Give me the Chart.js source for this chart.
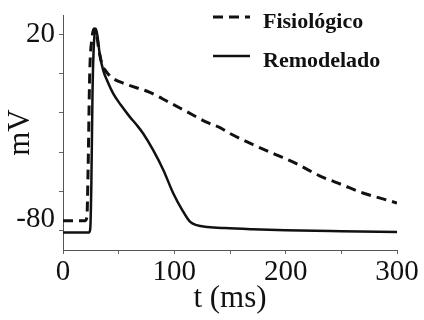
<!DOCTYPE html>
<html>
<head>
<meta charset="utf-8">
<script src="https://cdn.jsdelivr.net/npm/chart.js@4/dist/chart.umd.min.js"></script>
<style>
    body { margin: 0; background: #fff; }
    #wrap { width: 424px; height: 320px; }
</style>
</head>
<body>
<div id="wrap"><canvas id="chart" width="424" height="320"></canvas></div>
<script>
// potencial de ação - fisiológico (tracejado)
const fisioT = [0, 20, 21.5, 22.5, 24, 26, 28, 30, 32, 35, 39, 44, 55, 78, 95, 110, 130, 141, 150, 170, 190, 210, 230, 250, 270, 285, 300];
const fisioV = [-75, -75, -73, -50, 0, 18, 23, 21, 13, 5, 1, -2, -5, -9.5, -14.5, -19, -25, -27.5, -30.5, -36, -41, -46, -52, -56.5, -61, -63.5, -66];

// potencial de ação - remodelado (contínuo)
const remodT = [0, 23.5, 24.5, 25.5, 26.5, 27.5, 28.5, 29.5, 31, 33, 36, 40, 45, 52, 60, 66, 72, 81, 90, 99, 107, 114, 120, 130, 145, 170, 200, 250, 300];
const remodV = [-81, -81, -79, -55, -10, 12, 21, 23, 19, 10, 2, -4, -10, -16, -22, -26, -30.5, -39, -49, -61, -69.5, -75.5, -77.3, -78.2, -78.8, -79.4, -79.9, -80.4, -80.8];

const xTicks = [0, 50, 100, 150, 200, 250, 300];
const xLabels = [0, 100, 200, 300];
const yTicks = [-80, -60, -40, -20, 0, 20];
const yLabels = [20, -80];

const seriesNames = ['Fisiológico', 'Remodelado'];

Chart.defaults.font.family = "'Liberation Serif', 'DejaVu Serif', serif";
Chart.defaults.color = '#111';

function toPoints(ts, vs) {
    return ts.map(function (t, i) { return {x: t, y: vs[i]}; });
}

// legenda dentro da área do gráfico, canto superior direito
const innerLegend = {
    id: 'innerLegend',
    afterDraw: function (chart) {
        const ctx = chart.ctx;
        const rows = [17, 56];
        ctx.save();
        chart.data.datasets.forEach(function (ds, i) {
            const y = rows[i];
            ctx.beginPath();
            ctx.strokeStyle = ds.borderColor;
            ctx.lineWidth = ds.borderWidth;
            ctx.setLineDash(ds.borderDash || []);
            ctx.moveTo(213, y);
            ctx.lineTo(250, y);
            ctx.stroke();
            ctx.setLineDash([]);
            ctx.fillStyle = '#111';
            ctx.font = "bold 22px 'Liberation Serif', serif";
            ctx.textBaseline = 'alphabetic';
            ctx.fillText(ds.label, 263, y + 11);
        });
        ctx.restore();
    }
};

const ctx = document.getElementById('chart');
new Chart(ctx, {
    type: 'line',
    data: {
        datasets: [{
            label: seriesNames[0],
            data: toPoints(fisioT, fisioV),
            borderColor: '#111',
            borderWidth: 3,
            borderDash: [10, 6],
            pointRadius: 0,
            cubicInterpolationMode: 'monotone',
            fill: false
        }, {
            label: seriesNames[1],
            data: toPoints(remodT, remodV),
            borderColor: '#111',
            borderWidth: 2.5,
            pointRadius: 0,
            cubicInterpolationMode: 'monotone',
            fill: false
        }]
    },
    options: {
        responsive: false,
        animation: false,
        layout: {
            padding: {top: 15, right: 27, left: 0, bottom: 0}
        },
        plugins: {
            legend: {display: false},
            tooltip: {enabled: false}
        },
        scales: {
            x: {
                type: 'linear',
                min: 0,
                max: 300,
                afterFit: function (scale) { scale.height = 70; },
                afterBuildTicks: function (scale) {
                    scale.ticks = xTicks.map(function (v) { return {value: v}; });
                },
                grid: {drawOnChartArea: false, drawTicks: true, tickLength: 4, color: '#666'},
                border: {display: true, color: '#555', width: 1},
                ticks: {
                    font: {size: 29},
                    padding: 1,
                    maxRotation: 0,
                    autoSkip: false,
                    callback: function (v) { return xLabels.includes(v) ? String(v) : ''; }
                },
                title: {
                    display: true,
                    text: 't (ms)',
                    font: {size: 31},
                    padding: {top: 0, bottom: 3}
                }
            },
            y: {
                type: 'linear',
                min: -90,
                max: 30,
                afterFit: function (scale) { scale.width = 63; },
                afterBuildTicks: function (scale) {
                    scale.ticks = yTicks.map(function (v) { return {value: v}; });
                },
                grid: {drawOnChartArea: false, drawTicks: true, tickLength: 4, color: '#666'},
                border: {display: true, color: '#555', width: 1},
                ticks: {
                    font: {size: 29, lineHeight: 0.76},
                    padding: 4,
                    autoSkip: false,
                    callback: function (v) {
                        if (!yLabels.includes(v)) return '';
                        // o rótulo -80 fica um pouco acima do tique, como no original
                        return v === -80 ? ['-80', ''] : String(v);
                    }
                },
                title: {
                    display: true,
                    text: 'mV',
                    font: {size: 31},
                    padding: {top: 2, bottom: 0}
                }
            }
        }
    },
    plugins: [innerLegend]
});
</script>
</body>
</html>
